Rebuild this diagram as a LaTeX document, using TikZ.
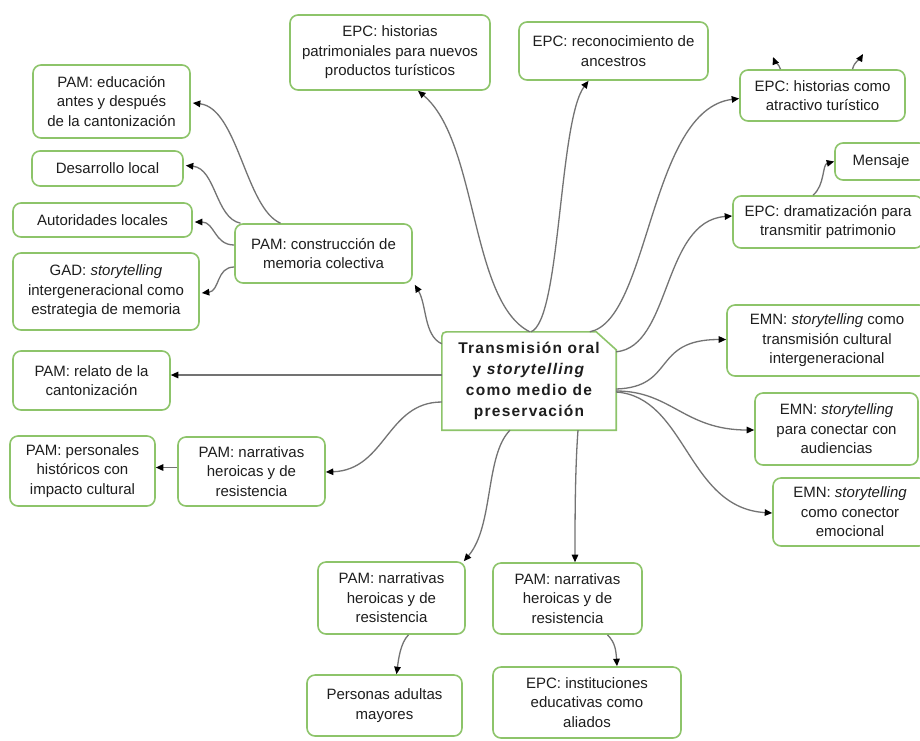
\documentclass[tikz,border=0pt]{standalone}
\usepackage{fontspec}
\setmainfont{Liberation Sans}
\usetikzlibrary{arrows.meta,calc}
\definecolor{boxgreen}{RGB}{141,196,106}
\definecolor{linegray}{RGB}{115,115,115}
\definecolor{txt}{RGB}{30,30,30}
\begin{document}
\begin{tikzpicture}[x=1pt,y=-1pt,
  font=\fontsize{15}{19.5}\selectfont, text=txt,
  box/.style={draw=boxgreen, line width=1.6pt, rounded corners=8pt, fill=white,
    align=center, inner sep=2pt, text=txt},
  conn/.style={draw=linegray, line width=1.3pt,
    -{Triangle[length=7.5pt,width=6.5pt,color=black]}},
  centertext/.style={align=center, inner sep=2pt, text=txt,
    font=\fontsize{15.5}{21}\selectfont\bfseries\addfontfeature{LetterSpace=8}}]
\useasboundingbox (0,0) rectangle (920,740);
\clip (0,0) rectangle (920,740);
\fill[white] (0,0) rectangle (920,740);

% top row
\node[box,minimum width=200pt,minimum height=75pt] (hp) at (390,52.5) {EPC: historias\\patrimoniales para nuevos\\productos turísticos};
\node[box,minimum width=189pt,minimum height=58pt] (ra) at (613.5,51) {EPC: reconocimiento de\\ancestros};
\node[box,minimum width=165pt,minimum height=51pt] (ha) at (822.5,95.5) {EPC: historias como\\atractivo turístico};
\node[box,minimum width=92pt,minimum height=37pt] (men) at (881,161.5) {Mensaje};
\node[box,minimum width=190pt,minimum height=52pt] (dr) at (828,222) {EPC: dramatización para\\transmitir patrimonio};

% right column
\node[box,minimum width=200pt,minimum height=71pt] (e1) at (827,340.5) {EMN: \textit{storytelling} como\\transmisión cultural\\intergeneracional};
\node[box,minimum width=163pt,minimum height=72pt] (e2) at (836.5,429) {EMN: \textit{storytelling}\\para conectar con\\audiencias};
\node[box,minimum width=154pt,minimum height=68pt] (e3) at (850,512) {EMN: \textit{storytelling}\\como conector\\emocional};

% left column
\node[box,minimum width=157pt,minimum height=73pt] (edu) at (111.5,101.5) {PAM: educación\\antes y después\\de la cantonización};
\node[box,minimum width=151pt,minimum height=35pt] (des) at (107.5,168.5) {Desarrollo local};
\node[box,minimum width=179pt,minimum height=34pt] (aut) at (102.5,220) {Autoridades locales};
\node[box,minimum width=186pt,minimum height=77pt] (gad) at (106,291.5) {GAD: \textit{storytelling}\\intergeneracional como\\estrategia de memoria};
\node[box,minimum width=177pt,minimum height=59pt] (cmc) at (323.5,253.5) {PAM: construcción de\\memoria colectiva};
\node[box,minimum width=157pt,minimum height=59pt] (rel) at (91.5,380.5) {PAM: relato de la\\cantonización};
\node[box,minimum width=145pt,minimum height=70pt] (per) at (82.5,471) {PAM: personales\\históricos con\\impacto cultural};
\node[box,minimum width=147pt,minimum height=69pt] (nl) at (251.5,471.5) {PAM: narrativas\\heroicas y de\\resistencia};

% bottom
\node[box,minimum width=147pt,minimum height=72pt] (nbl) at (391.5,598) {PAM: narrativas\\heroicas y de\\resistencia};
\node[box,minimum width=155pt,minimum height=61pt] (pam) at (384.5,705.5) {Personas adultas\\mayores};
\node[box,minimum width=149pt,minimum height=71pt] (nbr) at (567.5,598.5) {PAM: narrativas\\heroicas y de\\resistencia};
\node[box,minimum width=188pt,minimum height=71pt] (inst) at (587,702.5) {EPC: instituciones\\educativas como\\aliados};

% centre
\node[centertext,minimum width=174pt,minimum height=98pt] (c) at (529,381) {Transmisión oral\\y \textit{storytelling}\\como medio de\\preservación};
\draw[draw=boxgreen, line width=1.6pt]
  (c.south west) -- ($(c.north west)+(0,10)$)
  .. controls (c.north west) .. ($(c.north west)+(10,0)$)
  -- ($(c.north east)+(-20,0)$) -- ($(c.north east)+(0,18)$)
  -- (c.south east) -- cycle;

\coordinate (out1) at (773,57);
\coordinate (out2) at (863,54);

% connectors from centre
\draw[conn] ($(c.north west)+(88,0)$) .. controls +(-60,-30) and +(60,50) .. ($(hp.south)+(28,0)$);
\draw[conn] ($(c.north west)+(89,0)$) .. controls +(30,-10) and +(-30,40) .. ($(ra.south)+(-25,0)$);
\draw[conn] ($(c.north west)+(148,0)$) .. controls +(60,-12) and +(-90,11) .. ($(ha.west)+(0,3)$);
\draw[conn] ($(c.north east)+(0,20)$) .. controls +(55,-5) and +(-70,5) .. ($(dr.west)+(0,-6)$);
\draw[conn] ($(c.east)+(0,8)$) .. controls +(60,-2) and +(-75,0) .. ($(e1.west)+(0,-1)$);
\draw[conn] ($(c.east)+(0,10)$) .. controls +(55,0) and +(-70,0) .. ($(e2.west)+(0,1)$);
\draw[conn] ($(c.east)+(0,11)$) .. controls +(70,5) and +(-85,-5) .. ($(e3.west)+(0,1)$);
\draw[conn] ($(c.west)+(0,-6)$) -- ($(rel.east)+(0,-5.5)$);
\draw[conn] ($(c.west)+(0,21)$) .. controls +(-55,0) and +(60,-2) .. ($(nl.east)+(0,0.5)$);
\draw[conn] ($(c.south)+(-19,0)$) .. controls +(-25,25) and +(30,-35) .. ($(nbl.north east)+(-2,0)$);
\draw[conn] ($(c.south)+(49,0)$) .. controls +(-3,40) and +(0,-40) .. ($(nbr.north)+(7.5,0)$);
\draw[conn] ($(c.north west)+(0,12)$) .. controls +(-18,-8) and +(12,20) .. ($(cmc.south east)+(2,1)$);

% secondary connectors
\draw[conn] ($(dr.north)+(-15,0)$) .. controls +(12,-10) and +(-12,3) .. (men.west);
\draw[conn] ($(ha.north)+(-42,0)$) .. controls +(-2,-6) and +(2,5) .. (out1);
\draw[conn] ($(ha.north)+(30,0)$) .. controls +(2,-8) and +(-3,5) .. (out2);
\draw[conn] ($(nl.west)+(0,-4)$) -- ($(per.east)+(0,-3.5)$);
\draw[conn] ($(nbl.south)+(17,0)$) .. controls +(-8,8) and +(2,-15) .. ($(pam.north)+(12,0)$);
\draw[conn] ($(nbr.south)+(40,0)$) .. controls +(8,8) and +(-1,-15) .. ($(inst.north)+(30,0)$);
\draw[conn] ($(cmc.north)+(-43,0)$) .. controls +(-35,-15) and +(45,5) .. ($(edu.east)+(2,1.5)$);
\draw[conn] ($(cmc.north)+(-83,0)$) .. controls +(-25,-5) and +(30,3) .. ($(des.east)+(2,-3)$);
\draw[conn] ($(cmc.west)+(0,-8.5)$) .. controls +(-20,0) and +(20,0) .. ($(aut.east)+(2,2)$);
\draw[conn] ($(cmc.west)+(0,13.5)$) .. controls +(-18,0) and +(18,-2) .. ($(gad.east)+(2,1.5)$);
\end{tikzpicture}
\end{document}
